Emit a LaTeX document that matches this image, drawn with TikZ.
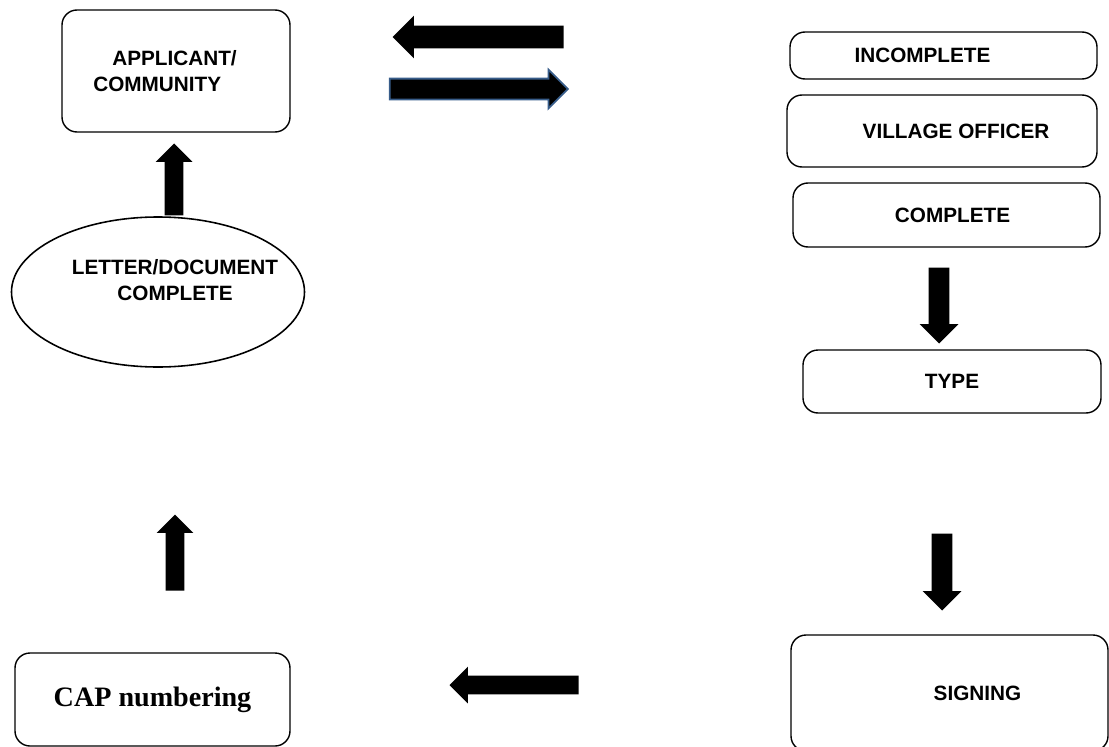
\documentclass[tikz,border=0pt]{standalone}
\usepackage{fontspec}
\setmainfont{Liberation Sans}
\newfontfamily\capfont{Liberation Serif}
\usetikzlibrary{shapes.geometric,shapes.arrows}
\newdimen\pxu \pxu=0.02cm
\definecolor{arrowblue}{RGB}{56,93,138}
\tikzset{
  stagebox/.style={draw=black, rounded corners=0.3cm, line width=0.8pt, inner sep=0pt, font=\bfseries\fontsize{11.8}{14.7}\selectfont},
  blockarrow/.style={single arrow, fill=black, inner sep=0pt, inner ysep=10\pxu, single arrow head extend=9\pxu, minimum height=#1, anchor=tip},
}
\begin{document}
\begin{tikzpicture}[x=0.02cm, y=-0.02cm]
\useasboundingbox (0,0) rectangle (1109,747);

% left column
\node[stagebox, minimum width=228\pxu, minimum height=122\pxu, align=left] (applicant) at (176,71) {\hspace*{19\pxu}APPLICANT/\hspace*{22\pxu}\\COMMUNITY};
\node[blockarrow=72\pxu, rotate=90, inner ysep=9\pxu] (upone) at (174,143) {};
\node[stagebox, ellipse, sharp corners, line width=0.9pt, minimum width=293\pxu, minimum height=150\pxu] (letter) at (158,292) {};
\node[font=\bfseries\fontsize{11.8}{14.7}\selectfont, align=center, inner sep=0pt] (lettertext) at (175,280) {LETTER/DOCUMENT\\COMPLETE};
\node[blockarrow=76\pxu, rotate=90, inner ysep=9\pxu] (uptwo) at (175,514) {};
\node[stagebox, minimum width=275\pxu, minimum height=93\pxu, font=\capfont\bfseries\fontsize{16}{19}\selectfont] (cap) at (152.5,699.5) {CAP numbering};

% arrows between the columns
\node[blockarrow=171\pxu, rotate=180, inner ysep=11\pxu, single arrow head extend=10\pxu] (back) at (392,37) {};
\node[blockarrow=178\pxu, draw=arrowblue, line width=1pt, inner ysep=9.5\pxu] (forward) at (569,89) {};
\node[blockarrow=129\pxu, rotate=180, inner ysep=9\pxu] (tocap) at (449,685) {};

% right column
\node[stagebox, minimum width=307\pxu, minimum height=47\pxu] (incomplete) at (943.5,55.5) {INCOMPLETE\hspace*{42\pxu}};
\node[stagebox, minimum width=310\pxu, minimum height=72\pxu] (village) at (942,131) {\hspace*{28\pxu}VILLAGE OFFICER};
\node[stagebox, minimum width=307\pxu, minimum height=64\pxu] (complete) at (946.5,215) {\hspace*{12\pxu}COMPLETE};
\node[blockarrow=76\pxu, rotate=-90] (downone) at (939,344) {};
\node[stagebox, minimum width=298\pxu, minimum height=63\pxu] (type) at (952,381.5) {TYPE};
\node[blockarrow=77\pxu, rotate=-90] (downtwo) at (942,611) {};
\node[stagebox, minimum width=317\pxu, minimum height=116\pxu] (signing) at (949.5,693) {\hspace*{56\pxu}SIGNING};
\end{tikzpicture}
\end{document}
